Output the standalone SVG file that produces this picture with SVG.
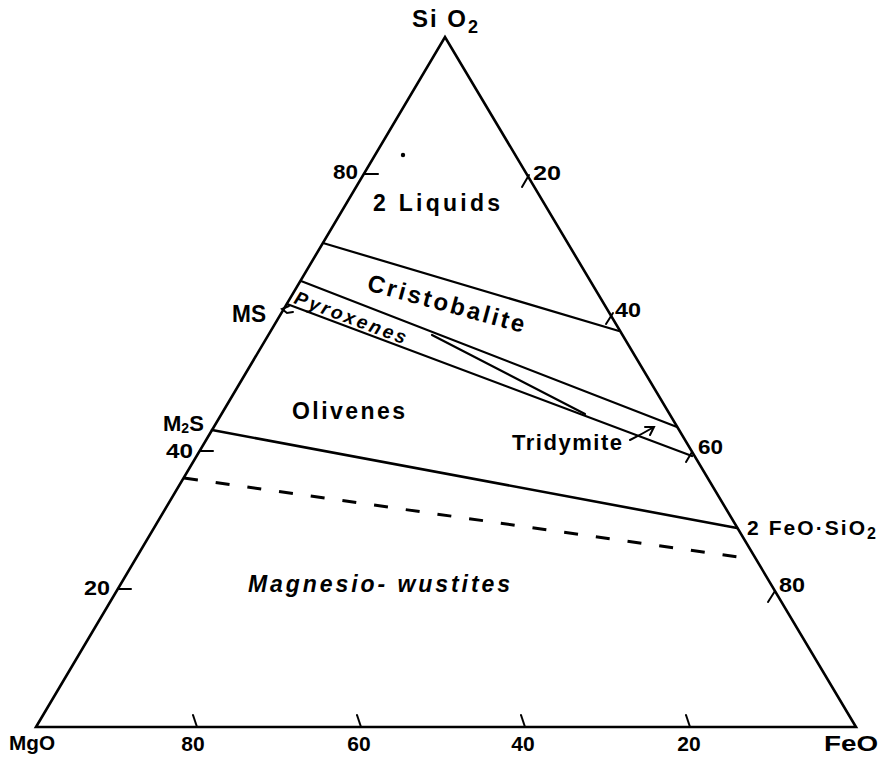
<svg xmlns="http://www.w3.org/2000/svg" width="883" height="758" viewBox="0 0 883 758">
<style>
.ln{fill:none;stroke:#000;stroke-width:2.2;stroke-linecap:round;stroke-linejoin:round}
.tk{fill:none;stroke:#000;stroke-width:2;stroke-linecap:round}
.t{font-family:"Liberation Sans","DejaVu Sans",sans-serif;font-weight:bold;fill:#000}
.n{font-size:20px}
.lb{font-size:23px}
</style>
<rect width="883" height="758" fill="#fff"/>
<g id="triangle">
<path class="ln" d="M36,727 L445,37 L856,727 Z" style="stroke-width:2.6;stroke-linejoin:miter"/>
</g>
<g id="connectors">
<line class="ln" x1="323" y1="243" x2="619" y2="331"/>
<line class="ln" x1="301" y1="281" x2="677" y2="427"/>
<line class="ln" x1="287" y1="304" x2="692" y2="456"/>
<line class="ln" x1="432" y1="335" x2="585" y2="414"/>
<line class="ln" x1="212" y1="430" x2="737" y2="528" style="stroke-width:2.6"/>
<line class="ln" x1="184" y1="478" x2="752" y2="559" style="stroke-width:3;stroke-dasharray:14 18;stroke-linecap:butt"/>
<path class="tk" d="M630,440 Q642,434 654,427 M645,427 L654,427 L650,435"/>
<path class="tk" d="M289,306 L282,309 L287,313 L293,312"/>
</g>
<g id="ticks">
<line class="tk" x1="364" y1="174" x2="378" y2="174"/>
<line class="tk" x1="200" y1="451" x2="213" y2="451"/>
<line class="tk" x1="118" y1="589" x2="131" y2="589"/>
<line class="tk" x1="529" y1="175" x2="522" y2="187"/>
<line class="tk" x1="613" y1="313" x2="606" y2="324"/>
<line class="tk" x1="692" y1="452" x2="686" y2="462"/>
<line class="tk" x1="775" y1="591" x2="768" y2="602"/>
<line class="tk" x1="193" y1="715" x2="197" y2="727"/>
<line class="tk" x1="357" y1="715" x2="361" y2="727"/>
<line class="tk" x1="521" y1="715" x2="525" y2="727"/>
<line class="tk" x1="686" y1="715" x2="690" y2="727"/>
<circle cx="403" cy="155" r="2.2" fill="#000"/>
</g>
<g id="labels">
<text class="t" x="412" y="27" font-size="24" letter-spacing="2">Si O<tspan font-size="18" dy="6">2</tspan></text>
<text class="t n" x="333" y="179" textLength="25" lengthAdjust="spacingAndGlyphs">80</text>
<text class="t n" x="533" y="180" textLength="28" lengthAdjust="spacingAndGlyphs">20</text>
<text class="t n" x="615" y="317" textLength="26" lengthAdjust="spacingAndGlyphs">40</text>
<text class="t n" x="698" y="454" textLength="25" lengthAdjust="spacingAndGlyphs">60</text>
<text class="t n" x="779" y="592" textLength="26" lengthAdjust="spacingAndGlyphs">80</text>
<text class="t n" x="166" y="458" textLength="27" lengthAdjust="spacingAndGlyphs">40</text>
<text class="t n" x="84" y="595" textLength="26" lengthAdjust="spacingAndGlyphs">20</text>
<text class="t lb" x="373" y="211" textLength="127" lengthAdjust="spacing">2 Liquids</text>
<text class="t" font-size="24" x="366" y="290" textLength="162" lengthAdjust="spacing" transform="rotate(15.3 366 290)">Cristobalite</text>
<text class="t" font-size="19" font-style="italic" x="293" y="303" textLength="118" lengthAdjust="spacing" transform="rotate(20.5 293 303)">Pyroxenes</text>
<text class="t" font-size="23" x="232" y="322" textLength="34" lengthAdjust="spacingAndGlyphs">MS</text>
<text class="t lb" x="292" y="419" textLength="113" lengthAdjust="spacing">Olivenes</text>
<text class="t" font-size="22" x="163" y="431">M<tspan font-size="14" dy="2">2</tspan><tspan dy="-2">S</tspan></text>
<text class="t" font-size="22" x="512" y="450" textLength="110" lengthAdjust="spacing">Tridymite</text>
<text class="t" font-size="21" x="747" y="535" textLength="118" lengthAdjust="spacing">2 FeO·SiO</text><text class="t" font-size="16" x="867" y="539">2</text>
<text class="t lb" font-style="italic" x="248" y="592" textLength="262" lengthAdjust="spacing">Magnesio- wustites</text>
<text class="t" font-size="21" x="9" y="750" textLength="46" lengthAdjust="spacingAndGlyphs">MgO</text>
<text class="t" font-size="21" x="193" y="751" text-anchor="middle">80</text>
<text class="t" font-size="21" x="359" y="751" text-anchor="middle">60</text>
<text class="t" font-size="21" x="523" y="751" text-anchor="middle">40</text>
<text class="t" font-size="21" x="689" y="751" text-anchor="middle">20</text>
<text class="t" font-size="22" x="824" y="751" textLength="54" lengthAdjust="spacingAndGlyphs">FeO</text>
</g>
</svg>
